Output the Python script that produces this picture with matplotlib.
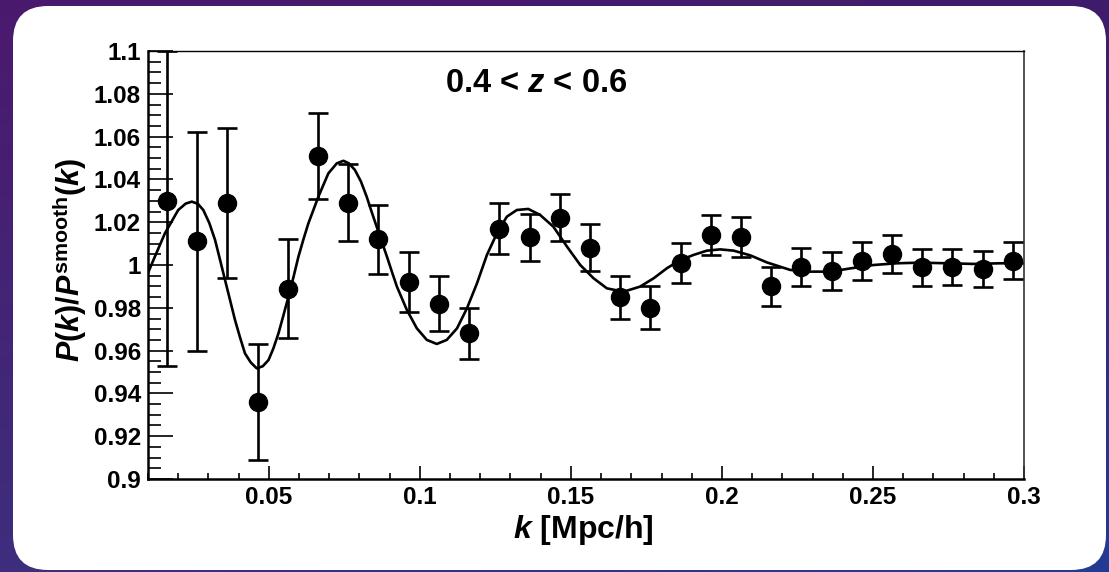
import numpy as np
import matplotlib
matplotlib.use("Agg")
import matplotlib.pyplot as plt
from matplotlib import patches
from matplotlib.ticker import MultipleLocator, FuncFormatter

plt.rcParams['font.family'] = ['Liberation Sans', 'DejaVu Sans']
plt.rcParams['font.weight'] = 'bold'
plt.rcParams['mathtext.fontset'] = 'custom'
plt.rcParams['mathtext.rm'] = 'Liberation Sans:bold'
plt.rcParams['mathtext.bf'] = 'Liberation Sans:bold'
plt.rcParams['mathtext.it'] = 'Liberation Sans:italic:bold'

# measured band powers, P(k)/P_smooth(k)
k_bins = [0.0163, 0.0263, 0.0363, 0.0463, 0.0563, 0.0663, 0.0763, 0.0863,
          0.0963, 0.1063, 0.1163, 0.1263, 0.1363, 0.1463, 0.1563, 0.1663,
          0.1763, 0.1863, 0.1963, 0.2063, 0.2163, 0.2263, 0.2363, 0.2463,
          0.2563, 0.2663, 0.2763, 0.2863, 0.2963]
ratio = [1.030, 1.011, 1.029, 0.936, 0.989, 1.051, 1.029, 1.012,
         0.992, 0.982, 0.968, 1.017, 1.013, 1.022, 1.008, 0.985,
         0.980, 1.001, 1.014, 1.013, 0.990, 0.999, 0.997, 1.002,
         1.005, 0.999, 0.999, 0.998, 1.002]
ratio_err = [0.077, 0.051, 0.035, 0.027, 0.023, 0.020, 0.018, 0.016,
             0.014, 0.013, 0.012, 0.012, 0.011, 0.011, 0.011, 0.010,
             0.010, 0.0095, 0.0094, 0.0093, 0.0092, 0.0089, 0.0089, 0.0088,
             0.0088, 0.0087, 0.0085, 0.0085, 0.0087]

# best-fit BAO model curve
model_k = [0.0100, 0.0123, 0.0156, 0.0200, 0.0225, 0.0245, 0.0265, 0.0283,
           0.0303, 0.0322, 0.0338, 0.0355, 0.0372, 0.0388, 0.0405, 0.0421,
           0.0440, 0.0460, 0.0480, 0.0499, 0.0515, 0.0532, 0.0548, 0.0565,
           0.0582, 0.0598, 0.0615, 0.0631, 0.0664, 0.0697, 0.0725, 0.0747,
           0.0765, 0.0785, 0.0805, 0.0824, 0.0840, 0.0857, 0.0874, 0.0891,
           0.0908, 0.0924, 0.0957, 0.0990, 0.1023, 0.1056, 0.1089, 0.1123,
           0.1156, 0.1189, 0.1222, 0.1255, 0.1288, 0.1321, 0.1359, 0.1398,
           0.1442, 0.1487, 0.1531, 0.1575, 0.1619, 0.1674, 0.1729, 0.1774,
           0.1818, 0.1862, 0.1906, 0.1950, 0.1994, 0.2039, 0.2094, 0.2149,
           0.2226, 0.2292, 0.2358, 0.2425, 0.2502, 0.2579, 0.2656, 0.2745,
           0.2833, 0.2921, 0.3000]
model_ratio = [0.9963, 1.0040, 1.0148, 1.0257, 1.0287, 1.0296, 1.0286, 1.0257,
               1.0196, 1.0117, 1.0027, 0.9930, 0.9834, 0.9743, 0.9660, 0.9587,
               0.9545, 0.9517, 0.9527, 0.9556, 0.9610, 0.9681, 0.9763, 0.9852,
               0.9946, 1.0039, 1.0122, 1.0195, 1.0319, 1.0428, 1.0475, 1.0487,
               1.0475, 1.0444, 1.0390, 1.0319, 1.0250, 1.0179, 1.0109, 1.0039,
               0.9966, 0.9899, 0.9790, 0.9704, 0.9650, 0.9631, 0.9650, 0.9704,
               0.9798, 0.9914, 1.0047, 1.0148, 1.0226, 1.0257, 1.0262, 1.0234,
               1.0179, 1.0086, 1.0000, 0.9938, 0.9891, 0.9875, 0.9899, 0.9938,
               0.9985, 1.0023, 1.0047, 1.0067, 1.0073, 1.0067, 1.0045, 1.0012,
               0.9977, 0.9969, 0.9969, 0.9984, 1.0000, 1.0008, 1.0011, 1.0008,
               1.0005, 1.0008, 1.0008]

x_range = (0.01, 0.3)
y_range = (0.9, 1.1)

W, H = 1109, 572
fig = plt.figure(figsize=(W / 100, H / 100), dpi=100)

# slide background with a white rounded card
bg = fig.add_axes([0, 0, 1, 1])
tl = np.array([0.29, 0.10, 0.43])
tr = np.array([0.25, 0.11, 0.42])
bl = np.array([0.24, 0.18, 0.49])
br = np.array([0.14, 0.23, 0.58])
u = np.linspace(0, 1, 64)[None, :, None]
v = np.linspace(0, 1, 32)[:, None, None]
grad = (1 - v) * ((1 - u) * tl + u * tr) + v * ((1 - u) * bl + u * br)
bg.imshow(grad, extent=[0, W, 0, H], aspect='auto', origin='upper')
card = patches.FancyBboxPatch((13, 2), 1093, 564,
                              boxstyle="round,pad=0,rounding_size=35",
                              facecolor='white', edgecolor='none')
bg.add_patch(card)
bg.set_xlim(0, W)
bg.set_ylim(0, H)
bg.axis('off')

ax = fig.add_axes([148 / W, 93 / H, 876 / W, 428 / H])
ax.set_facecolor('white')

ax.plot(model_k, model_ratio, color='black', lw=1.9, zorder=2,
        solid_joinstyle='round')

y = np.array(ratio)
e = np.array(ratio_err)
upper = np.minimum(e, y_range[1] - y)
ax.errorbar(k_bins, ratio, yerr=[e, upper], fmt='o', color='black',
            ms=13, elinewidth=1.9, capsize=7, capthick=1.9, zorder=3,
            clip_on=True)

ax.set_xlim(*x_range)
ax.set_ylim(*y_range)

ax.xaxis.set_major_locator(MultipleLocator(0.05))
ax.xaxis.set_minor_locator(MultipleLocator(0.01))
ax.yaxis.set_major_locator(MultipleLocator(0.02))
ax.yaxis.set_minor_locator(MultipleLocator(0.005))
ax.xaxis.set_major_formatter(FuncFormatter(lambda val, pos: '%g' % round(val, 4)))
ax.yaxis.set_major_formatter(FuncFormatter(lambda val, pos: '%g' % round(val, 4)))

ax.tick_params(axis='x', which='major', direction='in', length=9.5, width=1.2,
               labelsize=17.5, pad=5)
ax.tick_params(axis='x', which='minor', direction='in', length=4.5, width=1.2)
ax.tick_params(axis='y', which='major', direction='in', length=18, width=1.2,
               labelsize=17.5, pad=5)
ax.tick_params(axis='y', which='minor', direction='in', length=9.5, width=1.2)
for lab in ax.get_xticklabels() + ax.get_yticklabels():
    lab.set_fontweight('bold')

ax.spines['left'].set_linewidth(1.8)
ax.spines['bottom'].set_linewidth(1.8)
ax.spines['top'].set_linewidth(1.0)
ax.spines['right'].set_linewidth(1.2)
ax.spines['right'].set_color('#333333')

ax.text(0.443, 0.925, r'0.4 < $z$ < 0.6', transform=ax.transAxes,
        ha='center', va='center', fontsize=23.5, fontweight='bold')

fig.text(583 / W, 1 - 530 / H, r'$k$ [Mpc/h]', ha='center', va='center',
         fontsize=23, fontweight='bold')
fig.text(70 / W, 1 - 260 / H, r'$P(k)/P^{\mathrm{smooth}}(k)$', ha='center',
         va='center', rotation=90, fontsize=22, fontweight='bold')

fig.savefig('out.png', dpi=100)
